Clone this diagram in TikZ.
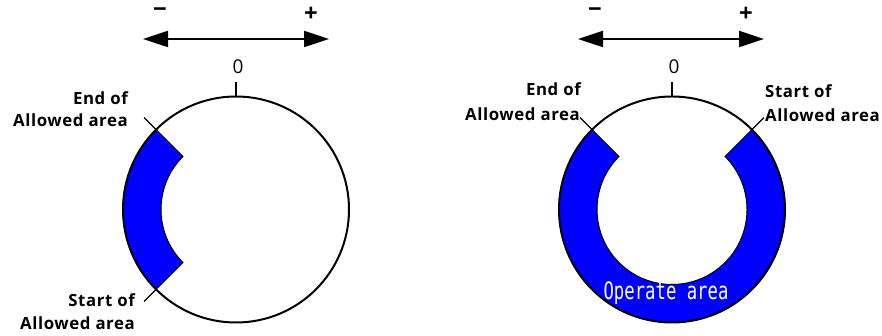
\documentclass[tikz,border=0pt]{standalone}
\usepackage{fontspec}
\usetikzlibrary{arrows.meta}
\newfontfamily\lblfont{Open Sans}[LetterSpace=3.5]
\newfontfamily\symfont{Open Sans}
\newfontfamily\opfont{DejaVu Sans Mono}
\definecolor{bandblue}{RGB}{0,0,255}
\tikzset{
  lbl/.style={font=\lblfont\bfseries\fontsize{16.8}{20}\selectfont, inner sep=0pt},
  sym/.style={font=\symfont\fontsize{19}{20}\selectfont, inner sep=0pt},
  pm/.style={font=\symfont\bfseries\fontsize{24}{24}\selectfont, inner sep=0pt},
  ring/.style={draw=black, line width=2pt},
  band/.style={fill=bandblue, draw=black, line width=1pt},
  tickline/.style={draw=black, line width=1.1pt},
  dirarrow/.style={line width=1.8pt, {Triangle[length=25pt,width=16pt]}-{Triangle[length=25pt,width=16pt]}},
}
\begin{document}
\begin{tikzpicture}[x=1pt,y=1pt]
\useasboundingbox (0,0) rectangle (882,336);
% ---------- left dial ----------
\coordinate (cL) at (236,126.5);
\path[band] ([shift={(135:113)}]cL) arc[start angle=135,end angle=225,radius=113]
  -- ([shift={(225:75)}]cL) arc[start angle=225,end angle=135,radius=75] -- cycle;
\draw[ring] (cL) circle[radius=113];
\coordinate (cLtop) at ([shift={(90:113)}]cL);
\coordinate (cLtopend) at ([shift={(90:127)}]cL);
\draw[tickline] (cLtop) -- (cLtopend);
\coordinate (cLa) at ([shift={(135:113)}]cL);
\coordinate (cLaend) at ([shift={(135:130)}]cL);
\draw[tickline] (cLa) -- (cLaend);
\coordinate (cLb) at ([shift={(225:113)}]cL);
\coordinate (cLbend) at ([shift={(225:130)}]cL);
\draw[tickline] (cLb) -- (cLbend);
\coordinate (arLa) at (143,297);
\coordinate (arLb) at (329,297);
\draw[dirarrow] (arLa) -- (arLb);
\node[pm] (minL) at (160,323) {−};
\node[pm] (plusL) at (311,322) {+};
\node[sym] (zeroL) at (238,269) {0};
\node[lbl, anchor=base east] (endL1) at (128,231) {End of};
\node[lbl, anchor=base east] (endL2) at (128,209.3) {Allowed area};
\node[lbl, anchor=base east] (startL1) at (135,29.3) {Start of};
\node[lbl, anchor=base east] (startL2) at (135,6.5) {Allowed area};
% ---------- right dial ----------
\coordinate (cR) at (672,126.5);
\path[band] ([shift={(135:113)}]cR) arc[start angle=135,end angle=405,radius=113]
  -- ([shift={(45:75)}]cR) arc[start angle=405,end angle=135,radius=75] -- cycle;
\draw[ring] (cR) circle[radius=113];
\coordinate (cRtop) at ([shift={(90:113)}]cR);
\coordinate (cRtopend) at ([shift={(90:127)}]cR);
\draw[tickline] (cRtop) -- (cRtopend);
\coordinate (cRa) at ([shift={(135:113)}]cR);
\coordinate (cRaend) at ([shift={(135:130)}]cR);
\draw[tickline] (cRa) -- (cRaend);
\coordinate (cRb) at ([shift={(45:113)}]cR);
\coordinate (cRbend) at ([shift={(45:130)}]cR);
\draw[tickline] (cRb) -- (cRbend);
\coordinate (arRa) at (578,297);
\coordinate (arRb) at (764,297);
\draw[dirarrow] (arRa) -- (arRb);
\node[pm] (minR) at (595,323) {−};
\node[pm] (plusR) at (746,322) {+};
\node[sym] (zeroR) at (674,269) {0};
\node[lbl, anchor=base east] (endR1) at (581,240) {End of};
\node[lbl, anchor=base east] (endR2) at (580,215.3) {Allowed area};
\node[lbl, anchor=base west] (startR1) at (765,238) {Start of};
\node[lbl, anchor=base west] (startR2) at (765,214) {Allowed area};
\node[inner sep=0pt, text=white, font=\opfont\fontsize{24}{26}\selectfont] (oper) at (666,43) {\scalebox{0.72}[1]{Operate area}};
\end{tikzpicture}
\end{document}
